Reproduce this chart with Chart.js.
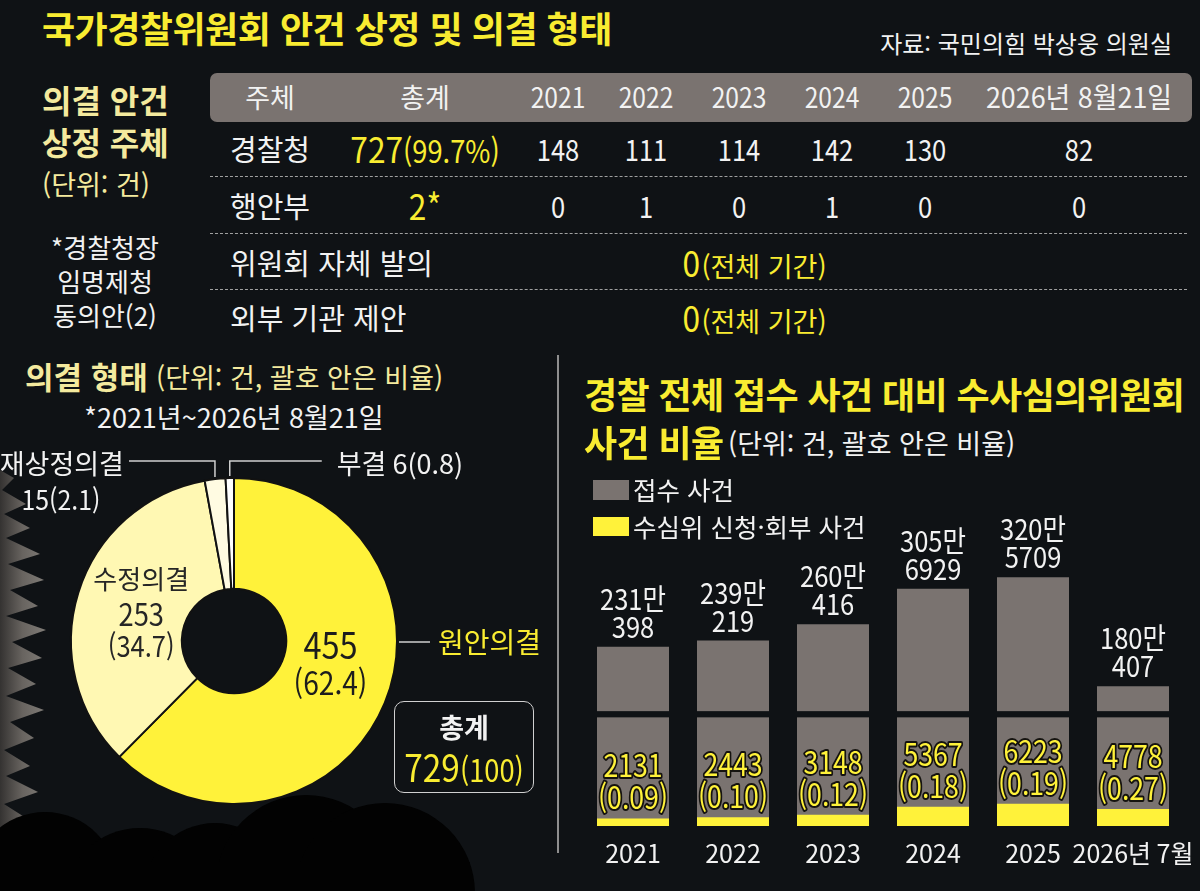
<!DOCTYPE html>
<html lang="ko">
<head>
<meta charset="utf-8">
<script src="https://cdn.jsdelivr.net/npm/chart.js@4.4.1/dist/chart.umd.min.js"></script>
<style>
html,body{margin:0;padding:0;background:#0f1215;}
#root{position:relative;width:1200px;height:891px;overflow:hidden;background:#0f1215;font-family:'Noto Sans CJK KR',sans-serif;color:#f2f2f2;}
.t{position:absolute;white-space:nowrap;line-height:1.2;}
canvas{position:absolute;}
.deco{position:absolute;}
</style>
</head>
<body>
<div id="root">
  <div class="deco" id="paper"></div>
  <div class="deco" style="left:210px;top:73px;width:982px;height:49px;border-radius:7px;background:#7a7370;"></div>
  <div class="deco" style="left:557px;top:355px;width:1.5px;height:498px;background:#8e8e8e;"></div>
  <div class="deco" style="left:394px;top:701px;width:138px;height:90px;border:1.5px solid #d0d0d0;border-radius:10px;z-index:3;"></div>
  <canvas id="donut" width="560" height="380" style="left:0;top:440px;width:560px;height:380px;"></canvas>
  <canvas id="bars" width="630" height="411" style="left:583px;top:469px;width:630px;height:411px;"></canvas>
  <div class="deco" style="left:-28px;top:812px;width:146px;height:146px;border-radius:50%;background:#020202;z-index:8;"></div>
  <div class="deco" style="left:63px;top:828px;width:154px;height:154px;border-radius:50%;background:#020202;z-index:8;"></div>
  <div class="deco" style="left:143px;top:823px;width:144px;height:144px;border-radius:50%;background:#020202;z-index:8;"></div>
  <div class="deco" style="left:216px;top:795px;width:180px;height:180px;border-radius:50%;background:#020202;z-index:8;"></div>
  <div class="deco" style="left:295px;top:803px;width:180px;height:180px;border-radius:50%;background:#020202;z-index:8;"></div>
  <div class="deco" style="left:0;top:862px;width:470px;height:40px;background:#020202;z-index:8;"></div>
</div>
<script>
// ---------- DATA ----------
const tableHeaders = ['주체', '총계'];
const tableYears = ['2021', '2022', '2023', '2024', '2025', '2026년 8월21일'];
const proposers = ['경찰청', '행안부', '위원회 자체 발의', '외부 기관 제안'];
const proposerTotals = [727, 2, 0, 0];
const proposerTotalNotes = ['(99.7%)', '*', '(전체 기간)', '(전체 기간)'];
const policeByYear = [148, 111, 114, 142, 130, 82];
const moisByYear = [0, 1, 0, 1, 0, 0];

const decisionLabels = ['원안의결', '수정의결', '재상정의결', '부결'];
const decisionCounts = [455, 253, 15, 6];
const decisionShares = ['62.4', '34.7', '2.1', '0.8'];
const decisionTotal = 729;

const caseYears = ['2021', '2022', '2023', '2024', '2025', '2026년 7월'];
const seriesNames = ['접수 사건', '수심위 신청·회부 사건'];
const receivedCases = [2310398, 2390219, 2600416, 3056929, 3205709, 1800407];
const reviewCases = [2131, 2443, 3148, 5367, 6223, 4778];
const reviewRatio = ['0.09', '0.10', '0.12', '0.18', '0.19', '0.27'];

// ---------- STYLE ----------
const BG = '#0f1215';
const YELLOW = '#f9ec31';
const PALE = '#f4ea9e';
const GRAY_BAR = '#7a7370';
const YELLOW_BAR = '#fff23a';
const WHITE = '#f2f2f2';
const KR = "'Noto Sans CJK KR',sans-serif";
const COND = 0.88;
const root = document.getElementById('root');

function put(text, x, y, o = {}) {
  const d = document.createElement('div');
  d.className = 't';
  d.style.left = x + 'px';
  d.style.top = y + 'px';
  const a = o.align || 'left';
  const sx = o.sx ? ` scaleX(${o.sx})` : '';
  if (a === 'center') { d.style.transform = 'translate(-50%,-50%)' + sx; }
  else if (a === 'right') { d.style.transform = 'translate(-100%,-50%)' + sx; d.style.transformOrigin = 'right center'; }
  else { d.style.transform = 'translateY(-50%)' + sx; d.style.transformOrigin = 'left center'; }
  d.style.fontSize = (o.size || 26) + 'px';
  d.style.fontWeight = o.weight || 400;
  d.style.color = o.color || WHITE;
  d.style.fontFamily = KR;
  if (o.ls) d.style.letterSpacing = o.ls + 'px';
  d.style.zIndex = o.z || 5;
  if (o.html) d.innerHTML = text; else d.textContent = text;
  root.appendChild(d);
  return d;
}

// ---------- HEADINGS ----------
put('국가경찰위원회 안건 상정 및 의결 형태', 42, 28, {size: 36, weight: 700, color: YELLOW, ls: -0.5});
put('자료: 국민의힘 박상웅 의원실', 1172, 43, {align: 'right', size: 24});
put('의결 안건', 42, 99, {size: 32, weight: 700, color: PALE});
put('상정 주체', 42, 141, {size: 32, weight: 700, color: PALE});
put('(단위: 건)', 42, 184, {size: 27, color: PALE});
put('*경찰청장', 105, 247, {align: 'center', size: 26});
put('임명제청', 105, 281, {align: 'center', size: 26});
put('동의안(2)', 105, 315, {align: 'center', size: 26});

// ---------- TABLE ----------
const colX = [270, 425, 558, 646, 739, 832, 925, 1079];
const rowY = [97, 148, 205, 262, 317];
const rowLabelX = 230;
const spanX = 754;
tableHeaders.forEach((h, i) => put(h, colX[i], rowY[0], {align: 'center', size: 27}));
tableYears.forEach((h, i) => put(h, colX[i + 2], rowY[0], {align: 'center', size: 28, sx: i === 5 ? 0.96 : COND}));
proposers.forEach((p, r) => {
  const y = rowY[r + 1];
  put(p, rowLabelX, y, {size: 29});
  const note = proposerTotalNotes[r];
  if (r < 2) {
    const small = note === '*' ? 36 : 31;
    put(`<span style="font-size:36px">${proposerTotals[r]}</span><span style="font-size:${small}px">${note}</span>`,
      colX[1], y, {align: 'center', size: 36, color: YELLOW, html: true, sx: COND});
    const vals = r === 0 ? policeByYear : moisByYear;
    vals.forEach((v, i) => put(String(v), colX[i + 2], y, {align: 'center', size: 29, sx: COND}));
  } else {
    put(`<span style="font-size:36px;display:inline-block;transform:scaleX(${COND})">${proposerTotals[r]}</span><span style="font-size:27px">${note}</span>`,
      spanX, y, {align: 'center', size: 36, color: YELLOW, html: true});
  }
  if (r < 3) {
    const dash = document.createElement('div');
    dash.className = 'deco';
    dash.style.cssText = `left:210px;top:${(rowY[r + 1] + rowY[r + 2]) / 2 - 1}px;width:977px;height:0;border-top:1.3px dashed #a0a0a0;`;
    root.appendChild(dash);
  }
});

// ---------- DONUT SECTION TEXT ----------
put('의결 형태', 25, 376, {size: 31, weight: 700, color: PALE});
put('(단위: 건, 괄호 안은 비율)', 156, 377, {size: 27, color: PALE});
put('*2021년~2026년 8월21일', 234, 417, {align: 'center', size: 27});
put('총계', 464, 727, {align: 'center', size: 27, weight: 700, z: 6});
put(`<span style="font-size:38px">${decisionTotal}</span><span style="font-size:31px">(100)</span>`,
  464, 766, {align: 'center', size: 38, color: YELLOW, html: true, z: 6, sx: COND});

// ---------- BAR SECTION TEXT ----------
put('경찰 전체 접수 사건 대비 수사심의위원회', 584, 394, {size: 36, weight: 700, color: YELLOW, ls: -0.6});
put('사건 비율', 584, 442, {size: 36, weight: 700, color: YELLOW, ls: -0.6});
put('(단위: 건, 괄호 안은 비율)', 728, 443, {size: 27});
[GRAY_BAR, YELLOW_BAR].forEach((c, i) => {
  const sq = document.createElement('div');
  sq.className = 'deco';
  sq.style.cssText = `left:593px;top:${480 + i * 36.5}px;width:36px;height:19.5px;background:${c};z-index:4;`;
  root.appendChild(sq);
  put(seriesNames[i], 633, 489 + i * 36.5, {size: 25.5});
});

// ---------- LEFT PAPER DECORATION ----------
(function () {
  const p = document.getElementById('paper');
  const pts = ['0 0', '14px 8px', '2px 20px', '26px 34px', '4px 44px', '30px 58px', '6px 68px', '40px 84px', '8px 94px',
    '44px 110px', '10px 120px', '38px 136px', '6px 146px', '46px 160px', '12px 172px', '42px 188px', '8px 198px',
    '36px 214px', '6px 226px', '44px 240px', '10px 252px', '34px 268px', '4px 280px', '30px 296px', '6px 306px',
    '38px 322px', '4px 334px', '26px 348px', '2px 360px', '0 360px'];
  p.style.cssText = `left:0;top:470px;width:50px;height:360px;background:linear-gradient(90deg,#4d4844,#a39a91 45%,#d4ccc2);clip-path:polygon(${pts.join(',')});opacity:0.6;`;
})();

function condText(ctx, t, x, y, sx, stroke) {
  ctx.save();
  ctx.translate(x, y);
  ctx.scale(sx, 1);
  if (stroke) ctx.strokeText(t, 0, 0);
  ctx.fillText(t, 0, 0);
  ctx.restore();
}

// ---------- DONUT CHART ----------
const donutInner = {
  0: {dx: -3, dy: -18, color: '#1d1d1d', lines: [
    {t: i => String(decisionCounts[i]), size: 37, dy: -19, sx: COND},
    {t: i => `(${decisionShares[i]})`, size: 32, dy: 19, sx: COND}]},
  1: {dx: 10, dy: 3, color: '#262626', lines: [
    {t: i => decisionLabels[i], size: 26, dy: -33, sx: 1},
    {t: i => String(decisionCounts[i]), size: 31, dy: 2, sx: COND},
    {t: i => `(${decisionShares[i]})`, size: 29, dy: 34, sx: COND}]}
};
const donutLabelPlugin = {
  id: 'donutLabels',
  afterDatasetsDraw(chart) {
    const ctx = chart.ctx;
    const meta = chart.getDatasetMeta(0);
    ctx.save();
    ctx.textBaseline = 'middle';
    meta.data.forEach((arc, i) => {
      const {x, y, startAngle, endAngle, innerRadius, outerRadius} =
        arc.getProps(['x', 'y', 'startAngle', 'endAngle', 'innerRadius', 'outerRadius'], true);
      const mid = (startAngle + endAngle) / 2;
      const st = donutInner[i];
      if (st) {
        const r = (innerRadius + outerRadius) / 2;
        const cx = x + Math.cos(mid) * r + st.dx, cy = y + Math.sin(mid) * r + st.dy;
        ctx.fillStyle = st.color;
        ctx.textAlign = 'center';
        st.lines.forEach(l => {
          ctx.font = `${l.size}px ${KR}`;
          condText(ctx, l.t(i), cx, cy + l.dy, l.sx);
        });
      }
      ctx.strokeStyle = '#cfcfcf';
      ctx.lineWidth = 1.5;
      if (i === 0) {
        const lx = x + outerRadius + 2;
        ctx.beginPath(); ctx.moveTo(lx, y + 1); ctx.lineTo(lx + 31, y + 1); ctx.stroke();
        ctx.fillStyle = YELLOW; ctx.textAlign = 'left';
        ctx.font = `28px ${KR}`;
        ctx.fillText(decisionLabels[i], lx + 39, y + 1);
      }
      if (i >= 2) {
        const side = i === 2 ? -1 : 1;
        const px = x + Math.cos(mid) * (outerRadius + 1);
        const py = y + Math.sin(mid) * (outerRadius + 1);
        const level = y - outerRadius - 17;
        const len = i === 2 ? 86 : 92;
        ctx.beginPath(); ctx.moveTo(px, py - 1); ctx.lineTo(px, level); ctx.lineTo(px + side * len, level); ctx.stroke();
        ctx.fillStyle = WHITE;
        ctx.font = `27px ${KR}`;
        const ex = px + side * len;
        if (side < 0) {
          ctx.textAlign = 'right';
          ctx.fillText(decisionLabels[i], ex - 5, level + 3);
          ctx.textAlign = 'center';
          condText(ctx, `${decisionCounts[i]}(${decisionShares[i]})`, ex - 68, level + 39, 0.92);
        } else {
          ctx.textAlign = 'left';
          ctx.fillText(`${decisionLabels[i]} ${decisionCounts[i]}(${decisionShares[i]})`, ex + 15, level + 3);
        }
      }
    });
    ctx.restore();
  }
};
new Chart(document.getElementById('donut'), {
  type: 'doughnut',
  data: {
    labels: decisionLabels,
    datasets: [{
      data: decisionCounts,
      backgroundColor: ['#fff23a', '#fff8b3', '#fffbe2', '#ffffff'],
      borderColor: '#121212',
      borderWidth: 2
    }]
  },
  options: {
    responsive: false,
    animation: false,
    cutout: '32%',
    layout: {padding: {left: 70, right: 162, top: 37, bottom: 15}},
    plugins: {legend: {display: false}, tooltip: {enabled: false}}
  },
  plugins: [donutLabelPlugin]
});

// ---------- BAR CHART ----------
const AXIS_BREAK = [1400000, 1480000];
const barLabelPlugin = {
  id: 'barLabels',
  afterDatasetsDraw(chart) {
    const ctx = chart.ctx;
    const yel = chart.getDatasetMeta(0);
    const gray = chart.getDatasetMeta(1);
    const ys = chart.scales.y;
    const yTop = ys.getPixelForValue(AXIS_BREAK[1]);
    const yBot = ys.getPixelForValue(AXIS_BREAK[0]);
    ctx.save();
    ctx.fillStyle = BG;
    gray.data.forEach(b => ctx.fillRect(b.x - b.width / 2 - 1, yTop, b.width + 2, yBot - yTop));
    ctx.textAlign = 'center';
    ctx.textBaseline = 'middle';
    ctx.font = `29px ${KR}`;
    ctx.fillStyle = WHITE;
    gray.data.forEach((b, i) => {
      const v = receivedCases[i];
      condText(ctx, Math.floor(v / 10000) + '만', b.x, b.y - 48, COND);
      condText(ctx, String(v % 10000), b.x, b.y - 20, COND);
    });
    ctx.font = `31px ${KR}`;
    ctx.lineJoin = 'round';
    ctx.lineWidth = 4;
    ctx.strokeStyle = '#15130f';
    ctx.fillStyle = YELLOW_BAR;
    yel.data.forEach((b, i) => {
      [[String(reviewCases[i]), -53], [`(${reviewRatio[i]})`, -21]].forEach(([t, dy]) => {
        condText(ctx, t, b.x, b.y + dy, 0.86, true);
      });
    });
    ctx.restore();
  }
};
new Chart(document.getElementById('bars'), {
  type: 'bar',
  data: {
    labels: caseYears,
    datasets: [
      {label: seriesNames[1], data: reviewCases, backgroundColor: YELLOW_BAR, yAxisID: 'y2', order: 0,
        grouped: false, barPercentage: 0.72, categoryPercentage: 1},
      {label: seriesNames[0], data: receivedCases, backgroundColor: GRAY_BAR, yAxisID: 'y', order: 1,
        grouped: false, barPercentage: 0.72, categoryPercentage: 1}
    ]
  },
  options: {
    responsive: false,
    animation: false,
    layout: {padding: {left: 0, top: 0, bottom: 0, right: 30}},
    plugins: {legend: {display: false}, tooltip: {enabled: false}},
    scales: {
      x: {
        grid: {display: false, drawTicks: false},
        border: {display: false},
        ticks: {color: WHITE, font: {family: KR, size: 25}, padding: 12, maxRotation: 0, minRotation: 0, autoSkip: false}
      },
      y: {display: false, min: 0, max: 4600000},
      y2: {display: false, min: 0, max: 100000, position: 'right'}
    }
  },
  plugins: [barLabelPlugin]
});
</script>
</body>
</html>
